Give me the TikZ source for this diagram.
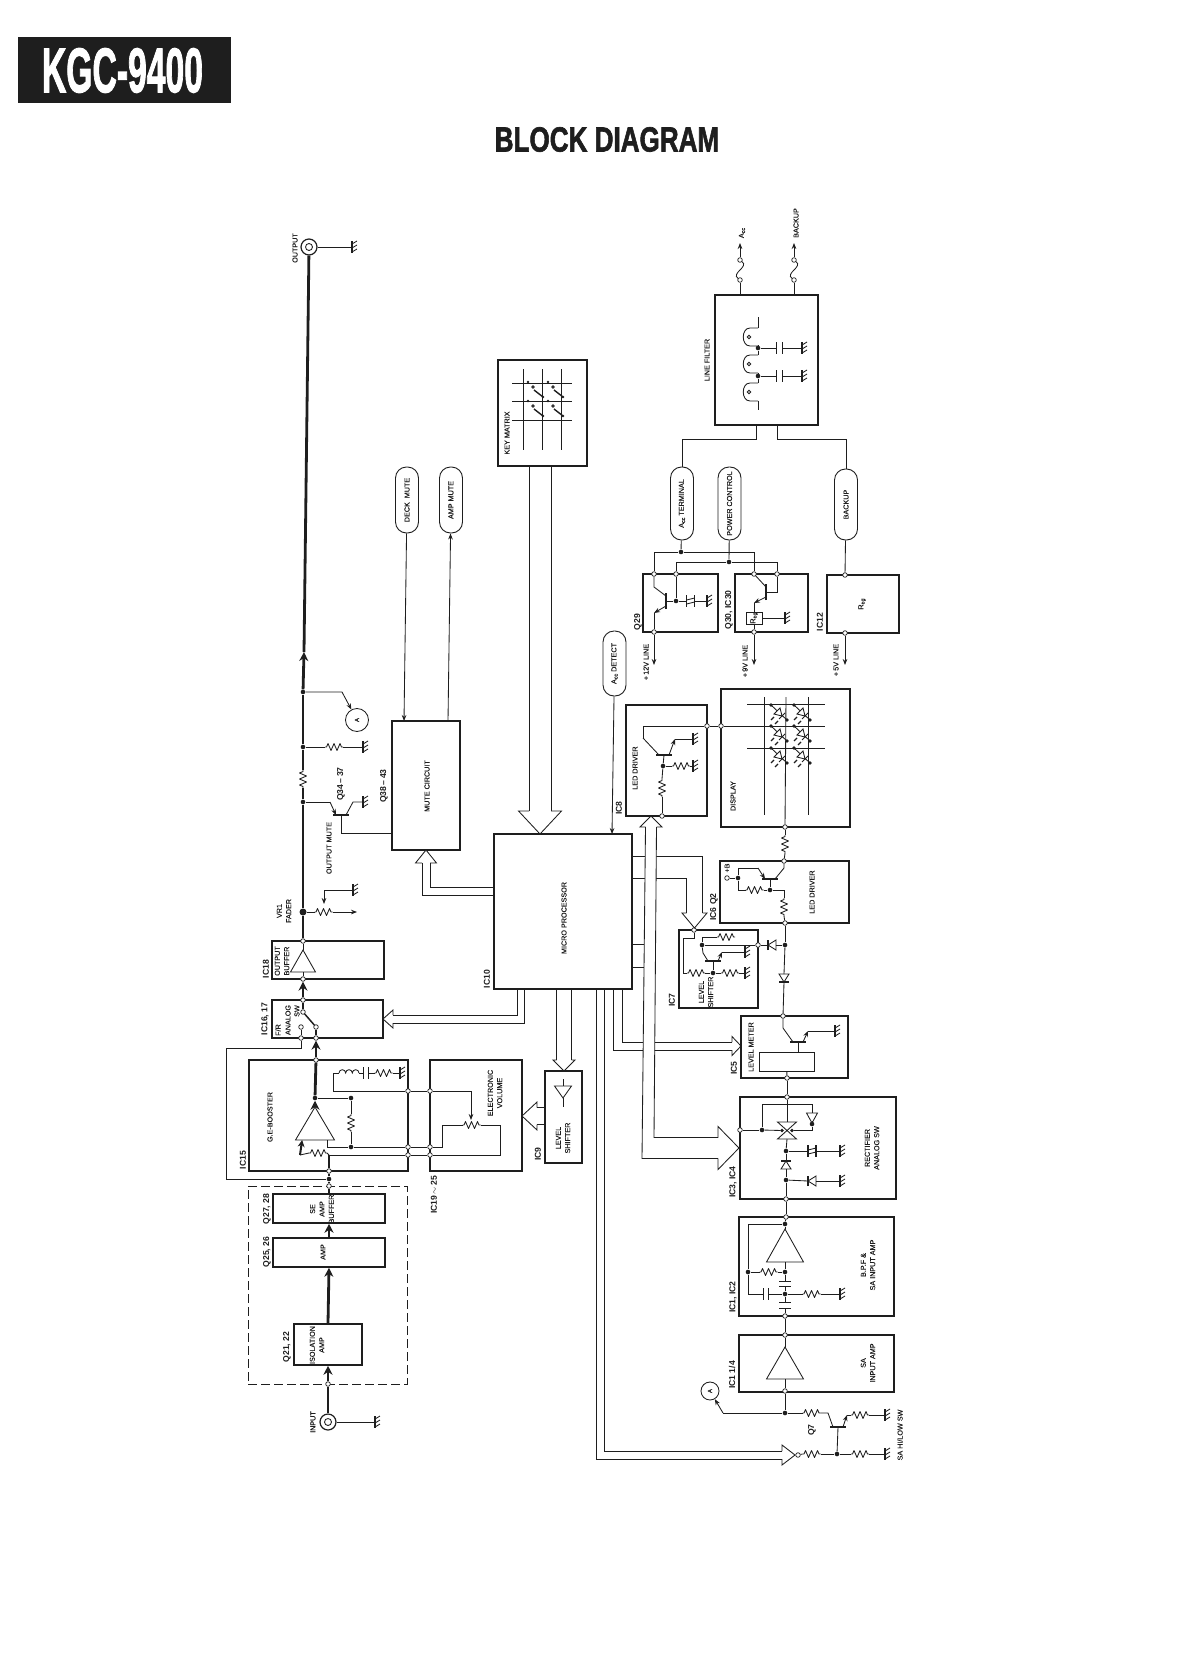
\documentclass[tikz,border=0pt]{standalone}
\usepackage{fontspec}
\setmainfont{Liberation Sans}
\newfontfamily\labfont{Liberation Sans}[FakeBold=.45]
\newfontfamily\headfont{Liberation Sans}[BoldFeatures={FakeBold=2}]
\usepackage{xcolor}
\usetikzlibrary{arrows.meta,calc,fit}
\definecolor{ink}{HTML}{1E1E1E}

\tikzset{
  block/.style={draw,line width=1.5pt,inner sep=0pt},
  thinbox/.style={draw,line width=.8pt,inner sep=0pt},
  term/.style={circle,draw,fill=white,inner sep=0pt,minimum size=4.6pt,line width=.7pt},
  jdot/.style={circle,fill=ink,inner sep=0pt,minimum size=4.6pt},
  lab/.style={rotate=90,inner sep=0pt,align=center,font=\labfont\fontsize{7.2}{9.4}\selectfont},
  chip/.style={rotate=90,inner sep=0pt,font=\bfseries\fontsize{8.6}{10}\selectfont},
  pill/.style={draw,rotate=90,rounded corners=11pt,line width=.9pt,minimum height=23pt,inner sep=0pt,
    font=\labfont\fontsize{7.2}{9}\selectfont},
  bus/.style={line width=2.8pt},
  busarr/.style={line width=2.8pt,-{Stealth[length=9pt,width=9pt]}},
  arr/.style={-{Stealth[length=6pt,width=4.6pt]}},
  pics/resistor/.style={code={
    \draw[line join=round] (-9,0) -- (-7.5,0) -- (-6,-3.5) -- (-3,3.5) -- (0,-3.5) -- (3,3.5) -- (6,-3.5) -- (7.5,0) -- (9,0);
    \coordinate (-a) at (-9,0); \coordinate (-b) at (9,0);}},
  pics/ground/.style={code={
    \draw[line width=1.1pt] (0,-6) -- (0,6);
    \foreach \t in {-5,-1,3} \draw (0,\t+2) -- (5,\t-1);
    \coordinate (-in) at (0,0);}},
  pics/capa/.style={code={
    \draw[line width=1.3pt] (-2.8,-6) -- (-2.8,6) (2.8,-6) -- (2.8,6);
    \coordinate (-a) at (-2.8,0); \coordinate (-b) at (2.8,0);}},
  pics/capz/.style={code={
    \draw[line width=1.2pt] (-4,-6) -- (-4,6) (4,-6) -- (4,6);
    \draw (-4,3) -- (4,1) (-4,-1) -- (4,-3);
    \coordinate (-a) at (-4,0); \coordinate (-b) at (4,0);}},
  pics/diodep/.style={code={
    \draw[fill=white] (-4,-5) -- (4,0) -- (-4,5) -- cycle;
    \draw[line width=1.1pt] (4,-5) -- (4,5);
    \coordinate (-a) at (-4,0); \coordinate (-b) at (4,0);}},
  pics/coilh/.style={code={
    \draw (-10,0) arc (180:360:3.33) arc (180:360:3.33) arc (180:360:3.33);
    \coordinate (-a) at (-10,0); \coordinate (-b) at (10,0);}},
  pics/coilv/.style={code={
    \draw (0,-9) -- (-8,-9) .. controls (-17,-9) and (-17,9) .. (-8,9) -- (0,9);
    \draw (-9,0) circle (1.8);
    \coordinate (-a) at (0,-9); \coordinate (-b) at (0,9);}},
  pics/bjtbar/.style={code={
    \draw[line width=2.2pt] (-8,0) -- (8,0);
    \coordinate (-p) at (-5,0); \coordinate (-q) at (5,0); \coordinate (-b) at (0,0);}},
  pics/opamp/.style 2 args={code={
    \draw[fill=white] (0,0) -- (#1,#2) -- (-#1,#2) -- cycle;
    \coordinate (-out) at (0,0); \coordinate (-in) at (0,#2);
    \coordinate (-inl) at (-#1*.66,#2); \coordinate (-inr) at (#1*.66,#2);}},
  pics/hhead/.style n args={3}{code={
    \draw[fill=white] (-#3,-#1) -- (-#2,-#1) -- (0,0) -- (#2,-#1) -- (#3,-#1);
    \coordinate (-l) at (-#3,-#1); \coordinate (-r) at (#3,-#1);}},
  pics/keysw/.style={code={
    \fill (0,0) circle (1.4) (15,15) circle (1.4);
    \draw (5,5) circle (1.3);
    \draw[line width=1.4pt] (6,8) -- (15,15);}},
  pics/ledcell/.style={code={
    \fill (0,0) circle (1.9) (16,15) circle (1.9);
    \draw (0,0) -- (16,15);
    \draw[fill=white] (3,9) -- (9,3) -- (11,11) -- cycle;
    \draw[line width=1pt] (8,14) -- (14,8);
    \draw[line width=1.3pt] (0,15) -- (3,12) (4,19) -- (7,16);}},
}
\newcommand{\acc}{A\raisebox{-.3ex}{\fontsize{5.4}{6}\selectfont cc}}
\newcommand{\reg}{R\raisebox{-.3ex}{\fontsize{5.4}{6}\selectfont eg}}

\begin{document}
\begin{tikzpicture}[x=1pt,y=-1pt,line width=.85pt,color=ink]
\useasboundingbox (0,0) rectangle (1179,1672);

% heading
\node[fill=ink,minimum width=213pt,minimum height=66pt] (badge) at (124.5,70) {};
\node[text=white,font=\headfont\bfseries\fontsize{63}{63}\selectfont,xscale=.535,transform shape] (badgetxt) at (122.5,70.5) {KGC-9400};
\node[font=\headfont\bfseries\fontsize{35}{35}\selectfont,xscale=.745,transform shape] (title) at (607,139.5) {BLOCK DIAGRAM};

% blocks
\foreach \n/\xa/\ya/\xb/\yb in {ic18/272/941/384/979,ic16/272/1000/383/1038,ic15/249/1060/408/1171,
  ev/430/1060/522/1171,ic9/545/1071/582/1163,se/273/1194/385/1223,amp/273/1238/385/1267,iso/294/1324/362/1365,
  micro/494/834/632/989,mute/392/721/460/850,keym/498/360/587/466,linef/715/295/818/425,q29/643/574/718/632,
  q30/735/574/808/632,ic12/827/575/899/633,ic8/626/705/707/816,disp/721/689/850/827,ic6/720/861/849/923,
  ic7/679/930/758/1008,ic5/741/1016/848/1078,ic3/740/1097/896/1199,ic1/739/1217/894/1316,ic11/739/1335/894/1392}
  \node[block,fit={(\xa,\ya) (\xb,\yb)}] (\n) {};
\node[thinbox,fit={(746,612) (762,624)}] (regbox) {};
\node[thinbox,fit={(759,1052) (814,1071)}] (lmbox) {};
\node[draw,dashed,dash pattern=on 9pt off 4pt,line width=.9pt,inner sep=0pt,fit={(248,1186) (407,1384)}] (dashbox) {};

% labels
\foreach \n/\x/\y/\t in {l18/266/969/IC18,l16/265/1019/{IC16, 17},l15/243/1160/IC15,l27/267/1209/{Q27, 28},
  l25/267/1252/{Q25, 26},l21/287/1347/{Q21, 22},l19/434/1195/{IC19\,$\sim$\,25},l9/538/1154/IC9,l10/487/979/IC10,
  l34/341/784/{Q34\,--\,37},l38/384/786/{Q38\,--\,43},l8/619/808/IC8,lq29/638/622/Q29,lq30/729/610/{Q30, IC30},
  l12/820/622/IC12,l6/714/907/{IC6 Q2},l7/672/1000/IC7,l5/734/1068/IC5,l3/733/1182/{IC3, IC4},l1/733/1297/{IC1, IC2},
  l11/732/1375/{IC1 1/4},lq7/812/1430/Q7}
  \node[chip] (\n) at (\x,\y) {\t};
\foreach \n/\x/\y/\t in {tout/295/248/OUTPUT,tin/313/1422/INPUT,tfad/284/911/{VR1\\FADER},tbuf/282/961/{OUTPUT\\BUFFER},
  tfr/278/1030/{F/R},tana/288/1020/ANALOG,tsw/297/1011/SW,tge/270/1117/{G.E-BOOSTER},tev/495/1093/{ELECTRONIC\\VOLUME},
  tls/563/1138/{LEVEL\\SHIFTER},tse/322/1209/{SE\\AMP\\BUFFER},tamp/323/1252/AMP,tiso/317/1345/{ISOLATION\\AMP},
  tmic/564/918/{MICRO PROCESSOR},tmut/427/786/{MUTE CIRCUIT},tomu/329/848/{OUTPUT MUTE},tkey/507/433/{KEY MATRIX},
  tlf/707/360/{LINE FILTER},tacc/742/233/\acc,tbak/796/223/BACKUP,t12v/646/662/{+\,12V LINE},t9v/745/661/{+\,9V LINE},
  t5v/836/660/{+\,5V LINE},treg/754/618/\reg,treg2/862/604/\reg,tld1/635/768/{LED DRIVER},tdis/733/796/DISPLAY,
  tld2/812/892/{LED DRIVER},tpb/727/868/{+B},tls2/706/992/{LEVEL\\SHIFTER},tlm/751/1047/{LEVEL METER},
  trec/872/1148/{RECTIFIER\\ANALOG SW},tbpf/868/1265/{B.P.F \&\\SA INPUT AMP},tsa/868/1363/{SA\\INPUT AMP},
  thl/900/1435/{SA HI/LOW SW}}
  \node[lab] (\n) at (\x,\y) {\t};

% pill labels
\node[pill,minimum width=66pt] (deckm) at (407,500) {DECK\ \ MUTE};
\node[pill,minimum width=66pt] (ampm) at (451,500) {AMP MUTE};
\node[pill,minimum width=65pt] (accd) at (614.5,663.5) {\acc{} DETECT};
\node[pill,minimum width=73pt] (accterm) at (682,503.5) {\acc{} TERMINAL};
\node[pill,minimum width=73pt] (power) at (729.5,503.5) {POWER CONTROL};
\node[pill,minimum width=71pt] (bkup) at (846,504.5) {BACKUP};

% terminals and junctions
\foreach \n/\x/\y in {t18a/303/941,t18b/303/979,t16a/303/1000,t16b/303/1012,t16c/316/1027,t16d/301/1027,t16e/301/1038,
  t16f/316/1038,t15a/316/1060,t15b/329/1171,tdash/329/1186,tisob/328/1384,t15e/408/1091,t15f/408/1147,t15g/408/1155,
  tev1/430/1091,tev2/430/1147,tev3/430/1155,f1a/740/280,f1b/740/260,f2a/794/280,f2b/794/260,t29a/654/574,t29b/676/574,
  t29c/654/632,t30a/754/574,t30b/777/574,t30c/754/632,t12a/845/575,t12b/845/633,t8a/707/726,tdisp/721/726,t8b/662/816,
  tdisp2/785/827,t6a/784/861,t6b/785/923,t7a/758/945,t7b/694/930,t5a/783/1016,t5b/787/1078,t3a/787/1097,t3b/740/1130,
  t3c/786/1199,t1a/786/1217,t1b/785/1316,t11a/785/1335,t11b/785/1391,tpbt/727/878,bub/798/1455}
  \node[term] (\n) at (\x,\y) {};
\foreach \n/\x/\y in {d1/303/692,d2/303/747,d3/303/802,d5/315/1098,d6/351/1098,d7/351/1147,t15c/329/1179,
  d29a/681/552,d29b/729/562,d29c/676/601,d8/663/766,d6a/738/878,d6b/770/890,d7a/785/945,d7b/702/945,d7c/713/973,
  d3a/762/1130,d3b/786/1151,d3c/786/1180,d3e/812/1124,d1a/785/1224,d1b/748/1272,d1c/785/1272,d1d/785/1294,d11/785/1413,
  dq7/837/1454,lfd1/758/348,lfd2/758/376}
  \node[jdot] (\n) at (\x,\y) {};
\node[jdot,minimum size=7pt] (d4) at (303,912) {};
\foreach \n/\x/\y in {aout/304/652,vrend/357/912,wtip/324/904,cm/392/833,c34/330/802,c35/353/802,mi/404/721,mo/448/721,
  mm1/494/887,mm2/494/895,mb1/517/989,mb2/524/989,mr1/632/856,mr2/632/878,mr3/632/944,mr4/632/967,sl3/644/944,sl4/644/967,
  mb3/622/989,mb4/613/989,mb5/604/989,mb6/596/989,sb1/654/1137.5,sb2/642/1158.5,acce/612/834,j15/329/1155,c15a/300/1155,
  cl1/333/1091,wip/471/1120,cv2/442/1125,cv3/500/1125,c9a/563/1079,c9b/563/1107,lfa/756/425,lfb/777/425,lt1/740/295,
  lt2/794/295,lft/758/317,lfe/758/410,a1/740/243,a2/794/243,a12/654/665,a9/754/665,a5/845/665,c29a/654/587,c29b/654/613,
  c30b/754/603,c8/643/738,e8/675/739,c6a/758/868,c6b/784/868,c7a/703/953,e7/722/952,c7d/683/938,c5a/783/1028,e5/808/1031,
  c3a/812/1104,c1a/748/1294,c11a/723/1413,c7e/828/1413,es/847/1415,gl1/825/726,ca1/342/692}
  \coordinate (\n) at (\x,\y);

% jacks and tap circles
\node[circle,draw,line width=1.2pt,minimum size=16pt,inner sep=0pt] (output) at (309,247) {};
\node[circle,draw,minimum size=7pt,inner sep=0pt] (outputc) at (309,247) {};
\node[circle,draw,line width=1.2pt,minimum size=16pt,inner sep=0pt] (input) at (328,1422) {};
\node[circle,draw,minimum size=7pt,inner sep=0pt] (inputc) at (328,1422) {};
\node[circle,draw,rotate=90,minimum size=23pt,inner sep=0pt,font=\labfont\fontsize{6}{7}\selectfont] (acircA) at (357,720) {A};
\node[circle,draw,rotate=90,minimum size=18pt,inner sep=0pt,font=\labfont\fontsize{6}{7}\selectfont] (acircB) at (710,1391) {A};

% parts
\foreach \n/\x/\y/\r in {rm/303/779/90,r2/334/747/0,rvf/323.5/912/0,rv/471.5/1125/0,rf/351/1123/90,ri/318/1153/0,
  rl/383.5/1073/0,r8a/681/766/0,r8b/662/788/90,rd/785/844/90,r6a/754.5/890/0,r6b/784/907/90,r7t/726/937/0,r7r/730/973/0,
  r7l/696/973/0,r1a/768.5/1272/0,r1b/811.5/1294/0,rs1/811.5/1413/0,rs2/860/1415/0,rs3/860/1454/0,rs4/811.5/1454/0}
  \pic[rotate=\r] (\n) at (\x,\y) {resistor};
\foreach \n/\x/\y in {gin/375/1422,gout/352/247,g2/363/747,g34/363/802,gvr/353/890,gl/400/1073,glf1/802/348,glf2/802/376,
  g29/707/601,g30/785/618,g8a/693/739,g8b/693/766,g7a/745/952,g7b/745/973,g5/835/1031,g3a/840/1151,g3b/840/1181,
  g1/840/1294,gs1/885/1415,gs2/885/1454}
  \pic (\n) at (\x,\y) {ground};
\foreach \n/\x/\y/\r in {cl/366/1073/0,clf1/779.5/348/0,clf2/779.5/376/0,c1h/766/1294/0,c1v1/785/1284/90,c1v2/785/1305.5/90}
  \pic[rotate=\r] (\n) at (\x,\y) {capa};
\pic (cz29) at (690.5,601) {capz};
\pic (cz3) at (812,1151) {capz};
\foreach \n/\x/\y/\r in {dh/772/945/180,dv/784/978/-90,d3h/786/1165/90,d3i/812/1181/180}
  \pic[rotate=\r] (\n) at (\x,\y) {diodep};
\foreach \n/\x/\y/\r in {qb34/341/815/0,qb8/664/755/0,qb6/770/879/0,qb7/713/961/0,qb5/798/1042/0,qbs/838/1427/0,
  qb29/666/601/90,qb30/766/592/90}
  \pic[rotate=\r] (\n) at (\x,\y) {bjtbar};
\pic (lch) at (349,1073) {coilh};
\foreach \n/\y in {lc1/337,lc2/364,lc3/392} \pic (\n) at (758,\y) {coilv};
\pic (u18) at (303,950) {opamp={12.5}{22}};
\pic (u15) at (315,1107) {opamp={19.5}{33}};
\pic (u1) at (785,1229) {opamp={18.5}{33}};
\pic (u11) at (785,1347) {opamp={18.5}{32}};
\pic[rotate=180] (u9) at (563,1098) {opamp={8.5}{12}};
\pic[rotate=180] (u3) at (812,1123) {opamp={5.5}{10}};

% main signal line
\draw[busarr] (d1) -- (aout);
\draw[bus] (aout) -- (output);
\draw[bus] (d2) -- (d1);
\draw[line width=1.2pt] (rm-b) -- (d2);
\draw[line width=1.2pt] (d3) -- (rm-a);
\draw[bus] (d4) -- (d3);
\draw[bus] (t18a) -- (d4);
\draw (t18a) -- (u18-out);
\draw (t18b) -- (u18-in);
\draw[busarr] (t16a) -- (t18b);
\draw[line width=1.4pt] (t16a) -- (t16b);
\draw[line width=1.5pt] (t16b) -- (t16c);
\draw[line width=1.5pt] (t16f) -- (t16c);
\draw[busarr] (t15a) -- (t16f);
\draw[bus] (d5) -- (t15a);
\draw[busarr] (u15-out) -- (d5);
\draw[bus] (t15b) -- (j15);
\draw[bus] (t15c) -- (t15b);
\draw[bus] (tdash) -- (t15c);
\draw[bus] (se.north) -- (tdash);
\draw[busarr] (amp.north) -- (se.south);
\draw[busarr] (iso.north) -- (amp.south);
\draw[busarr] (tisob) -- (iso.south);
\draw[bus] (input) -- (tisob);
\draw (output) -- (gout-in);
\draw (input) -- (gin-in);
\draw (t16d) -- (t16e);
\draw (t16e) -- ++(0,10) -- ++(-75,0) |- (t15c);

% output side taps
\draw[arr] (d1) -- (ca1) -- (acircA);
\draw (d2) -- (r2-a);
\draw (r2-b) -- (g2-in);
\draw (d3) -- (c34);
\draw[arr] (c34) -- (qb34-p);
\draw (qb34-q) -- (c35) -- (g34-in);
\draw (qb34-b) |- (cm);
\draw (d4) -- (rvf-a);
\draw[arr] (rvf-b) -- (vrend);
\draw[arr] (gvr-in) -| (wtip);
\draw[arr] (deckm) -- (mi);
\draw[arr] (mo) -- (ampm);
\draw[arr] (accd) -- (acce);

% G.E-BOOSTER and ELECTRONIC VOLUME
\draw (j15) -- (ri-b);
\draw (ri-a) -- (c15a);
\draw[line width=2pt,-{Stealth[length=7pt,width=7pt]}] (c15a) -- (u15-inl);
\draw (d5) -- (d6);
\draw (d6) -- (rf-b);
\draw (rf-a) -- (d7);
\draw (u15-inr) |- (d7);
\draw (d7) -- (t15f);
\draw (t15f) -- (tev2);
\draw (tev2) -| (cv2) -- (rv-a);
\draw (rv-b) -- (cv3) |- (tev3);
\draw (tev3) -- (t15g);
\draw (t15g) -- (j15);
\draw (t15e) -- (cl1) |- (lch-a);
\draw (lch-b) -- (cl-a);
\draw (cl-b) -- (rl-a);
\draw (rl-b) -- (gl-in);
\draw (t15e) -- (tev1);
\draw[arr] (tev1) -| (wip);
\draw (c9a) -- (u9-in);
\draw (u9-out) -- (c9b);

% key matrix
\foreach \y in {383,401,420} \draw (512,\y) -- (572,\y);
\foreach \x in {523,542,561} \draw (\x,369) -- (\x,450);
\foreach \x in {528,548} \foreach \y in {382,401} \pic (ks\x\y) at (\x,\y) {keysw};

% hollow data paths
\pic (hkey) at (540,834) {hhead={23}{21.5}{11}};
\draw (hkey-l) -- (hkey-l |- keym.south);
\draw (hkey-r) -- (hkey-r |- keym.south);
\pic[rotate=180] (hmute) at (426,850) {hhead={13}{10.5}{4}};
\draw (hmute-l) |- (mm1);
\draw (hmute-r) |- (mm2);
\pic[rotate=-90] (hic16) at (383,1019) {hhead={10}{9}{4}};
\draw (hic16-l) -| (mb1);
\draw (hic16-r) -| (mb2);
\pic (hic9) at (564,1071) {hhead={11}{11}{7.5}};
\draw (hic9-l) -- (hic9-l |- micro.south);
\draw (hic9-r) -- (hic9-r |- micro.south);
\pic[rotate=-90] (hev) at (522,1116) {hhead={15}{14}{8.5}};
\draw (hev-l) -- (hev-l -| ic9.west);
\draw (hev-r) -- (hev-r -| ic9.west);
\pic (hic7) at (694.5,928) {hhead={15}{12.5}{8}};
\draw (hic7-r) |- (mr1);
\draw (hic7-l) |- (mr2);
\pic[rotate=90] (hic5) at (741,1046) {hhead={9}{9.5}{4}};
\draw (hic5-r) -| (mb3);
\draw (hic5-l) -| (mb4);
\pic[rotate=90] (hsa) at (795,1455) {hhead={13}{10}{4}};
\draw (hsa-r) -| (mb5);
\draw (hsa-l) -| (mb6);
\pic[rotate=180] (hic8) at (651,816) {hhead={11}{11}{5.5}};
\pic[rotate=90] (hic3) at (739,1148) {hhead={21}{21.5}{10.5}};
\fill[white] (hic8-l) -- (sb1) -- (sb2) -- (hic8-r) -- cycle;
\draw (hic8-l) -- (sb1) -- (hic3-r);
\draw (hic8-r) -- (sb2) -- (hic3-l);
\draw (mr3) -- (sl3);
\draw (mr4) -- (sl4);

% power supply
\draw (lt1) -- (f1a);
\draw (lt2) -- (f2a);
\draw (f1a) .. controls +(-9,-7) and +(9,7) .. (f1b);
\draw (f2a) .. controls +(-9,-7) and +(9,7) .. (f2b);
\draw[arr] (f1b) -- (a1);
\draw[arr] (f2b) -- (a2);
\draw (lft) -- (lc1-a);
\draw (lc1-b) -- (lfd1);
\draw (lfd1) -- (lc2-a);
\draw (lc2-b) -- (lfd2);
\draw (lfd2) -- (lc3-a);
\draw (lc3-b) -- (lfe);
\draw (lfd1) -- (clf1-a);
\draw (clf1-b) -- (glf1-in);
\draw (lfd2) -- (clf2-a);
\draw (clf2-b) -- (glf2-in);
\draw (lfa) -- ++(0,14) -| (accterm);
\draw (lfb) -- ++(0,14) -| (bkup);
\draw (accterm) -- (d29a);
\draw (power) -- (d29b);
\draw (bkup) -- (t12a);
\draw (t29a) |- (d29a);
\draw (d29a) -| (t30a);
\draw (t29b) |- (d29b);
\draw (d29b) -| (t30b);
\draw (t29a) -- (c29a) -- (qb29-q);
\draw[arr] (qb29-p) -- (c29b);
\draw (c29b) -- (t29c);
\draw (qb29-b) -- (d29c);
\draw (t29b) -- (d29c);
\draw (d29c) -- (cz29-a);
\draw (cz29-b) -- (g29-in);
\draw[arr] (t29c) -- (a12);
\draw (t30a) -- (qb30-q);
\draw[arr] (qb30-p) -- (c30b);
\draw (c30b) -- (regbox);
\draw (qb30-b) -| (t30b);
\draw (regbox.east) -- (g30-in);
\draw (regbox) -- (t30c);
\draw[arr] (t30c) -- (a9);
\draw[arr] (t12b) -- (a5);

% display and LED drivers
\draw (t8a) -- (tdisp);
\draw (tdisp) -- (gl1);
\foreach \y in {704,748} \draw (747,\y) -- (825,\y);
\foreach \x in {764,808} \draw (\x,697) -- (\x,815);
\draw (786,697) -- (tdisp2);
\foreach \x in {771,794} \foreach \y in {705,726,748} \pic (led\x\y) at (\x,\y) {ledcell};
\draw (t8a) -| (c8);
\draw (c8) -- (qb8-p);
\draw[arr] (qb8-q) -- (e8);
\draw (e8) -- (g8a-in);
\draw (qb8-b) -- (d8);
\draw (d8) -- (r8a-a);
\draw (r8a-b) -- (g8b-in);
\draw (d8) -- (r8b-b);
\draw (r8b-a) -- (t8b);
\draw (tdisp2) -- (rd-b);
\draw (rd-a) -- (t6a);
\draw (tpbt) -- (d6a);
\draw (d6a) |- (c6a);
\draw[arr] (c6a) -- (qb6-p);
\draw (qb6-q) -- (c6b) -- (t6a);
\draw (qb6-b) -- (d6b);
\draw (d6b) -- (r6a-b);
\draw (r6a-a) -| (d6a);
\draw (d6b) -| (r6b-b);
\draw (r6b-a) -- (t6b);
\draw (t6b) -- (d7a);
\draw (d7a) -- (dv-a);
\draw (dv-b) -- (t5a);
\draw (d7a) -- (dh-a);
\draw (dh-b) -- (t7a);
\draw (t7a) -- (d7b);
\draw (d7b) |- (r7t-a);
\draw (d7b) -- (c7a) -- (qb7-p);
\draw[arr] (qb7-q) -- (e7);
\draw (e7) -- (g7a-in);
\draw (qb7-b) -- (d7c);
\draw (d7c) -- (r7r-a);
\draw (r7r-b) -- (g7b-in);
\draw (d7c) -- (r7l-b);
\draw (t7b) |- (c7d) |- (r7l-a);
\draw (t5a) -- (c5a) -- (qb5-p);
\draw[arr] (qb5-q) -- (e5);
\draw (e5) -- (g5-in);
\draw (qb5-b) -- (qb5-b |- lmbox.north);
\draw (t5b) -- (lmbox);
\draw (t5b) -- (t3a);

% RECTIFIER, ANALOG SW
\draw[fill=white] (777.5,1122) -- (796.5,1122) -- (777.5,1139) -- (796.5,1139) -- cycle;
\node[jdot,minimum size=3.6pt] (swl) at (782,1130.5) {};
\node[jdot,minimum size=3.6pt] (swr) at (792,1130.5) {};
\coordinate (swt) at (787,1122);
\coordinate (sws) at (787,1139);
\draw (t3a) -- (swt);
\draw (t3b) -- (d3a);
\draw (d3a) -- (swl);
\draw (d3a) |- (c3a);
\draw (c3a) -- (u3-in);
\draw (u3-out) -- (d3e);
\draw (d3e) |- (swr);
\draw (sws) -- (d3b);
\draw (d3b) -- (cz3-a);
\draw (cz3-b) -- (g3a-in);
\draw (d3b) -- (d3h-b);
\draw (d3h-a) -- (d3c);
\draw (d3c) -- (d3i-b);
\draw (d3i-a) -- (g3b-in);
\draw (d3c) -- (t3c);
\draw (t3c) -- (t1a);

% B.P.F and SA INPUT AMP
\draw (t1a) -- (d1a);
\draw (d1a) -- (u1-out);
\draw (d1a) -| (d1b);
\draw (d1b) -- (c1a) -- (c1h-a);
\draw (c1h-b) -- (d1d);
\draw (u1-in) -- (d1c);
\draw (d1c) -- (r1a-b);
\draw (r1a-a) -- (d1b);
\draw (d1c) -- (c1v1-b);
\draw (c1v1-a) -- (d1d);
\draw (d1d) -- (c1v2-b);
\draw (c1v2-a) -- (t1b);
\draw (d1d) -- (r1b-a);
\draw (r1b-b) -- (g1-in);
\draw (t1b) -- (t11a);
\draw (t11a) -- (u11-out);
\draw (u11-in) -- (t11b);
\draw (t11b) -- (d11);

% SA HI/LOW
\draw (d11) -- (c11a);
\draw[arr] (c11a) -- (acircB);
\draw (d11) -- (rs1-a);
\draw (rs1-b) -- (c7e) -- (qbs-p);
\draw[arr] (qbs-q) -- (es);
\draw (es) -- (rs2-a);
\draw (rs2-b) -- (gs1-in);
\draw (qbs-b) -- (dq7);
\draw (dq7) -- (rs3-a);
\draw (rs3-b) -- (gs2-in);
\draw (dq7) -- (rs4-b);
\draw (rs4-a) -- (bub);
\end{tikzpicture}
\end{document}
